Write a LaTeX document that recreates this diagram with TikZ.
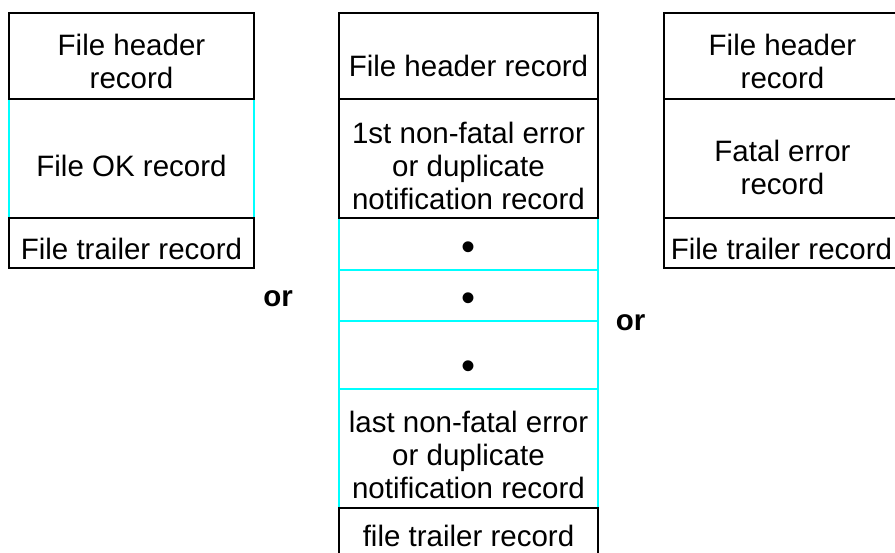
\documentclass[tikz,border=0pt]{standalone}
\usepackage{fontspec}
\setmainfont{Liberation Sans}
\definecolor{cyanline}{RGB}{0,255,255}
\begin{document}
\begin{tikzpicture}[x=1pt,y=-1pt,
  blk/.style={draw=black, line width=2.6pt, inner sep=0pt, rectangle},
  cyb/.style={draw=cyanline, line width=2.6pt, inner sep=0pt, rectangle},
  lcol/.style={minimum width=245pt},
  mcol/.style={minimum width=259pt},
  rcol/.style={minimum width=237pt},
  txt/.style={font=\fontsize{29.5}{33}\selectfont, align=center, inner sep=0pt},
  txtm/.style={font=\fontsize{29.5}{33}\selectfont, align=center, inner sep=0pt},
  orlab/.style={font=\fontsize{29.5}{30}\selectfont\bfseries, inner sep=0pt},
  dotlab/.style={font=\fontsize{40}{40}\selectfont, inner sep=0pt}]
\useasboundingbox (0,0) rectangle (895,553);
\clip (0,0) rectangle (895,553);
% cyan boxes
\node[cyb, lcol, minimum height=119pt] (lok) at (131.5,158.5) {};
\node[cyb, mcol, minimum height=52pt] (md1) at (468.5,244) {};
\node[cyb, mcol, minimum height=51pt] (md2) at (468.5,295.5) {};
\node[cyb, mcol, minimum height=68pt] (md3) at (468.5,355) {};
\node[cyb, mcol, minimum height=119pt] (ml) at (468.5,448.5) {};
% black boxes
\node[blk, lcol, minimum height=86pt] (lh) at (131.5,56) {};
\node[blk, lcol, minimum height=50pt] (lt) at (131.5,243) {};
\node[blk, mcol, minimum height=86pt] (mh) at (468.5,56) {};
\node[blk, mcol, minimum height=119pt] (me) at (468.5,158.5) {};
\node[blk, mcol, minimum height=92pt] (mt) at (468.5,554) {};
\node[blk, rcol, minimum height=86pt] (rh) at (782.5,56) {};
\node[blk, rcol, minimum height=119pt] (rf) at (782.5,158.5) {};
\node[blk, rcol, minimum height=50pt] (rt) at (782.5,243) {};
% texts
\node[txt] (tlh) at (131.5,61) {File header\\record};
\node[txt] (tlok) at (131.5,166) {File OK record};
\node[txt] (tlt) at (131.5,248.5) {File trailer record};
\node[txt] (tmh) at (468.5,66) {File header record};
\node[txtm] (tme) at (468.5,166) {1st non-fatal error\\or duplicate\\notification record};
\node[dotlab] (d1) at (468.5,251) {•};
\node[dotlab] (d2) at (468.5,302) {•};
\node[dotlab] (d3) at (468.5,370) {•};
\node[txtm] (tml) at (468.5,455) {last non-fatal error\\or duplicate\\notification record};
\node[txt] (tmt) at (468.5,536) {file trailer record};
\node[txt] (trh) at (782.5,61) {File header\\record};
\node[txt] (trf) at (782.5,167) {Fatal error\\record};
\node[txt] (trt) at (781.5,248.5) {File trailer record};
\node[orlab] (or1) at (278,299) {or};
\node[orlab] (or2) at (630.5,323) {or};
\end{tikzpicture}
\end{document}
